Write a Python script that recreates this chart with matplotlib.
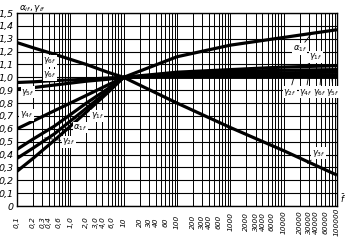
import matplotlib
matplotlib.use("Agg")
import matplotlib.pyplot as plt
from matplotlib.ticker import FixedLocator, LogLocator, NullFormatter

# ---- data ----
x_pts = [0.1, 0.2, 0.5, 1, 2, 5, 10, 100, 1000, 10000, 100000]
alpha_1f = [0.27, 0.37, 0.51, 0.62, 0.73, 0.88, 1.0, 1.16, 1.25, 1.31, 1.37]
gamma_2f = [0.37, 0.45, 0.56, 0.66, 0.76, 0.89, 1.0, 1.03, 1.045, 1.055, 1.06]
gamma_1f = [0.44, 0.52, 0.62, 0.71, 0.80, 0.91, 1.0, 1.04, 1.06, 1.08, 1.09]
gamma_4f = [0.60, 0.66, 0.74, 0.80, 0.86, 0.94, 1.0, 1.02, 1.03, 1.035, 1.04]
gamma_6f = [0.96, 0.965, 0.975, 0.98, 0.985, 0.995, 1.0, 1.01, 1.015, 1.02, 1.02]
gamma_5f = [0.91, 0.92, 0.94, 0.955, 0.97, 0.985, 1.0, 1.0, 1.0, 1.0, 1.0]
gamma_3f = [1.27, 1.23, 1.18, 1.14, 1.10, 1.04, 1.0, 0.80, 0.61, 0.43, 0.24]

x_ticks = [0.1, 0.2, 0.3, 0.4, 0.6, 1, 2, 3, 4, 6, 10, 20, 30, 40, 60, 100,
           200, 300, 400, 600, 1000, 2000, 3000, 4000, 6000, 10000,
           20000, 30000, 40000, 60000, 100000]
x_tick_labels = ["0,1", "0,2", "0,3", "0,4", "0,6", "1,0", "2,0", "3,0", "4,0",
                 "6,0", "10", "20", "30", "40", "60", "100", "200", "300",
                 "400", "600", "1000", "2000", "3000", "4000", "6000",
                 "10000", "20000", "30000", "40000", "60000", "100000"]
y_ticks = [0.0, 0.1, 0.2, 0.3, 0.4, 0.5, 0.6, 0.7, 0.8, 0.9, 1.0,
           1.1, 1.2, 1.3, 1.4, 1.5]
y_tick_labels = ["0", "0,1", "0,2", "0,3", "0,4", "0,5", "0,6", "0,7", "0,8",
                 "0,9", "1,0", "1,1", "1,2", "1,3", "1,4", "1,5"]

fig = plt.figure(figsize=(3.48, 2.44), dpi=100)
ax = fig.add_axes([17 / 348, 1 - 206 / 244, 320 / 348, 193 / 244])
ax.set_xscale("log")
ax.set_xlim(0.1, 100000)
ax.set_ylim(0, 1.5)

# grid
ax.xaxis.set_major_locator(FixedLocator(x_ticks))
ax.xaxis.set_minor_locator(LogLocator(base=10, subs=range(1, 10), numticks=30))
ax.xaxis.set_minor_formatter(NullFormatter())
ax.set_xticklabels(x_tick_labels)
ax.set_yticks(y_ticks)
ax.set_yticklabels(y_tick_labels)
ax.grid(True, which="both", axis="x", color="black", lw=0.7)
ax.grid(True, which="major", axis="y", color="black", lw=0.8)
ax.set_axisbelow(True)
for s in ax.spines.values():
    s.set_linewidth(1.0)

ax.tick_params(axis="x", which="both", length=0, pad=11.5, labelsize=5.3)
ax.tick_params(axis="y", length=0, pad=2.5, labelsize=6.8)
for lab in ax.get_xticklabels():
    lab.set_rotation(90)
    lab.set_va("center")
    lab.set_ha("center")
    lab.set_fontstyle("italic")
for lab in ax.get_yticklabels():
    lab.set_fontstyle("italic")

# curves
for ys in [alpha_1f, gamma_2f, gamma_1f, gamma_4f, gamma_6f, gamma_5f, gamma_3f]:
    ax.plot(x_pts, ys, color="black", lw=2.3, solid_capstyle="butt", zorder=3)

# labels
fs = 6
box = dict(boxstyle="square,pad=0.05", fc="white", ec="none")
def lab(text, xy_text, xy_pt=None):
    if xy_pt is None:
        ax.text(*xy_text, text, fontsize=fs, ha="center",
                va="center", zorder=5, bbox=box)
    else:
        ax.annotate(text, xy=xy_pt, xytext=xy_text, fontsize=fs,
                    ha="center", va="center", zorder=5, bbox=box,
                    arrowprops=dict(arrowstyle="-", lw=0.6, color="black",
                                    shrinkA=1, shrinkB=0))

lab(r"$\gamma_{6f}$", (0.42, 1.13))
lab(r"$\gamma_{6f}$", (0.42, 1.02), (0.28, 0.965))
lab(r"$\gamma_{5f}$", (0.16, 0.885))
lab(r"$\gamma_{4f}$", (0.15, 0.71))
lab(r"$\gamma_{1f}$", (3.2, 0.70), (2.0, 0.79))
lab(r"$\alpha_{1f}$", (1.55, 0.61), (1.25, 0.685))
lab(r"$\gamma_{2f}$", (0.95, 0.50), (0.33, 0.53))
lab(r"$\alpha_{1f}$", (20000, 1.22), (33000, 1.34))
lab(r"$\gamma_{1f}$", (40000, 1.16), (25000, 1.08))
lab(r"$\gamma_{2f}$", (13000, 0.885), (17000, 1.055))
lab(r"$\gamma_{4f}$", (26000, 0.885), (30000, 1.035))
lab(r"$\gamma_{6f}$", (47000, 0.885), (50000, 1.02))
lab(r"$\gamma_{5f}$", (85000, 0.885), (80000, 1.0))
lab(r"$\gamma_{3f}$", (45000, 0.41), (28000, 0.33))

fig.text(19 / 348, 1 - 8 / 244, r"$\alpha_{if}, \gamma_{if}$", fontsize=6.5,
         ha="left", va="center")
fig.text(343 / 348, 1 - 199 / 244, r"$\bar{f}$", fontsize=6,
         ha="center", va="center")

fig.savefig("out.png", dpi=100)
